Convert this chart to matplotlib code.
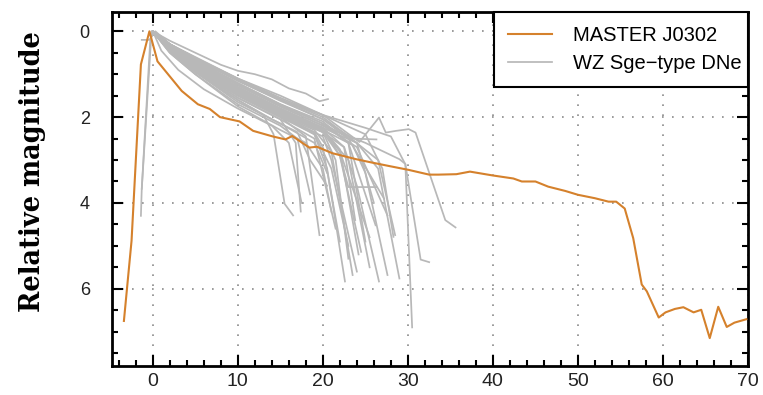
import matplotlib
matplotlib.use("Agg")
import matplotlib.pyplot as plt
from matplotlib.ticker import MultipleLocator

# ---------------- data ----------------
master_days = [-3.4, -2.5, -1.4, -0.4, 0.55, 3.4, 5.3, 6.7, 7.9, 10.2, 11.8, 14.1, 15.6,
               16.4, 18.4, 19.3, 21.1, 23.9, 25.8, 27.8, 30.1, 32.5, 33.6, 35.7, 37.3,
               40.0, 42.4, 43.4, 45.0, 46.5, 48.5, 50.0, 52.0, 53.6, 54.5, 55.5, 56.5,
               57.5, 58.1, 59.5, 60.3, 61.4, 62.4, 63.6, 64.5, 65.5, 66.5, 67.5, 68.4, 69.8]
master_mag = [6.75, 4.88, 0.77, 0.0, 0.7, 1.39, 1.70, 1.81, 2.0, 2.1, 2.32, 2.45, 2.52,
              2.44, 2.71, 2.69, 2.84, 2.98, 3.06, 3.14, 3.23, 3.34, 3.34, 3.33, 3.27,
              3.36, 3.43, 3.5, 3.5, 3.62, 3.72, 3.81, 3.89, 3.97, 3.97, 4.13, 4.82,
              5.90, 6.06, 6.67, 6.55, 6.47, 6.43, 6.55, 6.49, 7.15, 6.42, 6.89, 6.79, 6.71]

wz01_d = [0, 2, 5, 8, 10, 12, 14, 16, 18, 19.6, 20.6]
wz01_m = [0, 0.22, 0.5, 0.78, 0.92, 1.0, 1.12, 1.33, 1.45, 1.63, 1.58]
wz02_d = [0, 2, 5, 10, 15, 20, 24.3, 26.6, 27.4, 28.6, 30.1, 30.9, 34.4, 35.6]
wz02_m = [0, 0.3, 0.62, 1.1, 1.5, 1.95, 2.58, 2.01, 2.36, 2.32, 2.28, 2.36, 4.4, 4.57]
wz03_d = [0, 2, 5, 10, 15, 20, 25, 28, 29.7, 30.5]
wz03_m = [0, 0.3, 0.65, 1.15, 1.6, 1.95, 2.25, 2.45, 3.1, 6.9]
wz04_d = [0, 2, 5, 10, 15, 20, 25, 29, 29.7, 31.5, 32.5]
wz04_m = [0, 0.35, 0.7, 1.25, 1.75, 2.2, 2.6, 2.98, 3.09, 5.32, 5.38]
wz05_d = [0, 2, 5, 10, 15, 20, 24, 26.5, 29.0]
wz05_m = [0, 0.35, 0.75, 1.3, 1.8, 2.25, 2.6, 3.2, 5.76]
wz06_d = [0, 2, 5, 10, 15, 20, 23.5, 25, 27.6]
wz06_m = [0, 0.4, 0.8, 1.35, 1.85, 2.3, 2.65, 3.3, 5.68]
wz07_d = [0, 2, 5, 10, 15, 20, 22.5, 24, 26.6]
wz07_m = [0, 0.38, 0.78, 1.4, 1.9, 2.35, 2.7, 3.6, 5.83]
wz08_d = [0, 2, 5, 10, 15, 19, 21, 22.5, 23.5]
wz08_m = [0, 0.4, 0.85, 1.45, 1.95, 2.3, 2.8, 4.5, 5.68]
wz09_d = [0, 2, 5, 10, 15, 19, 20.5, 22.6]
wz09_m = [0, 0.42, 0.88, 1.5, 2.0, 2.4, 3.2, 5.83]
wz10_d = [0, 2, 5, 10, 15, 20, 22, 24.5]
wz10_m = [0, 0.35, 0.72, 1.3, 1.8, 2.25, 2.9, 5.14]
wz11_d = [0, 2, 5, 10, 15, 20, 23, 26.2]
wz11_m = [0, 0.3, 0.68, 1.2, 1.7, 2.1, 2.6, 4.52]
wz12_d = [0, 2, 5, 10, 15, 20, 25, 27, 28.3]
wz12_m = [0, 0.3, 0.6, 1.1, 1.55, 1.95, 2.4, 3.2, 4.79]
wz13_d = [0, 2, 5, 10, 13, 14.2, 15.5, 16.5]
wz13_m = [0, 0.45, 0.95, 1.6, 1.95, 2.4, 4.02, 4.29]
wz14_d = [0, 2, 5, 10, 15, 16.8, 17.4]
wz14_m = [0, 0.42, 0.9, 1.55, 2.05, 2.6, 4.2]
wz15_d = [0, 2, 5, 10, 15, 18, 19.6]
wz15_m = [0, 0.4, 0.85, 1.5, 2.0, 2.45, 4.75]
wz16_d = [0, 2, 5, 10, 15, 20, 22, 23, 26.3]
wz16_m = [0, 0.38, 0.8, 1.4, 1.9, 2.35, 2.9, 3.63, 3.63]
wz17_d = [0, 2, 5, 10, 15, 20, 23.5, 26.3]
wz17_m = [0, 0.3, 0.65, 1.15, 1.6, 2.05, 2.5, 2.52]
wz18_d = [0, 2, 5, 10, 15, 20, 23, 25.5]
wz18_m = [0, 0.36, 0.75, 1.35, 1.85, 2.3, 3.0, 5.5]
wz19_d = [0, 2, 5, 10, 15, 20, 24, 27.6]
wz19_m = [0, 0.33, 0.7, 1.25, 1.75, 2.2, 2.7, 4.29]
wz20_d = [0, 2, 5, 10, 15, 19, 21.5]
wz20_m = [0, 0.45, 0.9, 1.55, 2.05, 2.5, 4.6]
wz21_d = [0, 2, 5, 10, 15, 17, 18.5]
wz21_m = [0, 0.5, 1.0, 1.7, 2.2, 2.5, 3.8]
wz22_d = [0, 2, 5, 10, 15, 19, 20.5]
wz22_m = [0, 0.48, 0.95, 1.65, 2.15, 2.6, 3.3]
wz23_d = [0, 2, 5, 10, 15, 20, 21.5, 23]
wz23_m = [0, 0.4, 0.82, 1.42, 1.92, 2.35, 3.0, 5.3]
wz24_d = [0, 2, 5, 10, 15, 20, 23, 25]
wz24_m = [0, 0.33, 0.7, 1.25, 1.72, 2.15, 2.6, 4.9]
wz25_d = [0, 1, 3, 6, 10, 14, 16, 17.5]
wz25_m = [0, 0.45, 0.9, 1.35, 1.8, 2.2, 2.6, 4.0]
wz26_d = [0, 2, 5, 10, 15, 18, 20, 21]
wz26_m = [0, 0.5, 1.0, 1.75, 2.3, 2.6, 3.2, 4.2]
wz27_d = [0, 2, 5, 10, 15, 20, 22, 25.5]
wz27_m = [0, 0.35, 0.78, 1.38, 1.88, 2.32, 2.8, 4.8]
wz28_d = [0, 2, 5, 10, 15, 20, 21, 24]
wz28_m = [0, 0.42, 0.86, 1.48, 1.98, 2.45, 3.0, 5.6]
wz29_d = [0, 2, 5, 10, 15, 20, 23, 26.5, 28.5]
wz29_m = [0, 0.3, 0.62, 1.12, 1.58, 2.0, 2.45, 3.0, 4.75]
wz30_d = [0, 2, 5, 10, 14, 17, 18.5, 20.5]
wz30_m = [0, 0.45, 0.92, 1.6, 2.05, 2.35, 3.0, 3.6]
wz31_d = [0, 2, 5, 10, 15, 19, 20, 22]
wz31_m = [0, 0.38, 0.82, 1.42, 1.95, 2.35, 2.7, 4.9]
wz32_d = [0, 2, 5, 10, 15, 20, 22.5, 23.8]
wz32_m = [0, 0.36, 0.74, 1.3, 1.8, 2.25, 2.7, 4.4]
wz33_d = [0, 2, 5, 10, 15, 20, 23, 27.2]
wz33_m = [0, 0.3, 0.64, 1.15, 1.62, 2.05, 2.5, 3.9]
wz34_d = [-1.4, -1.3, -0.15, 2, 5, 10, 15, 19, 21, 23]
wz34_m = [4.3, 3.67, 0.0, 0.4, 0.85, 1.45, 1.95, 2.4, 3.2, 5.0]
wz35_d = [-1.3, -0.4, 0.3, 2, 5, 10, 15, 20, 24, 26]
wz35_m = [0.2, 0.2, 0.0, 0.3, 0.68, 1.22, 1.7, 2.15, 2.6, 4.0]
wz36_d = [-1.3, -0.3, 0, 2, 5, 10, 15, 20, 22, 24.2]
wz36_m = [3.67, 0.2, 0.0, 0.36, 0.76, 1.33, 1.83, 2.28, 2.75, 5.2]

wz_curves = [
    (wz01_d, wz01_m), (wz02_d, wz02_m), (wz03_d, wz03_m), (wz04_d, wz04_m),
    (wz05_d, wz05_m), (wz06_d, wz06_m), (wz07_d, wz07_m), (wz08_d, wz08_m),
    (wz09_d, wz09_m), (wz10_d, wz10_m), (wz11_d, wz11_m), (wz12_d, wz12_m),
    (wz13_d, wz13_m), (wz14_d, wz14_m), (wz15_d, wz15_m), (wz16_d, wz16_m),
    (wz17_d, wz17_m), (wz18_d, wz18_m), (wz19_d, wz19_m), (wz20_d, wz20_m),
    (wz21_d, wz21_m), (wz22_d, wz22_m), (wz23_d, wz23_m), (wz24_d, wz24_m),
    (wz25_d, wz25_m), (wz26_d, wz26_m), (wz27_d, wz27_m), (wz28_d, wz28_m),
    (wz29_d, wz29_m), (wz30_d, wz30_m), (wz31_d, wz31_m), (wz32_d, wz32_m),
    (wz33_d, wz33_m), (wz34_d, wz34_m), (wz35_d, wz35_m), (wz36_d, wz36_m),
]

x_ticks = [0, 10, 20, 30, 40, 50, 60, 70]
y_ticks = [0, 2, 4, 6]

# ---------------- plot ----------------
ORANGE = "#d5812c"
GREY = "#b8b8b8"

fig = plt.figure(figsize=(7.63, 3.95), dpi=100)
ax = fig.add_axes([112 / 763, 1 - 366 / 395, 636 / 763, (366 - 12) / 395])

for i, (d, m) in enumerate(wz_curves):
    ax.plot(d, m, color=GREY, lw=1.25, zorder=2,
            label="WZ Sge\u2212type DNe" if i == 0 else None)
ax.plot(master_days, master_mag, color=ORANGE, lw=1.5, zorder=3, label="MASTER J0302")

ax.set_xlim(-4.8, 70)
ax.set_ylim(7.8, -0.45)
ax.set_xticks(x_ticks)
ax.set_yticks(y_ticks)
ax.xaxis.set_minor_locator(MultipleLocator(2))
ax.yaxis.set_minor_locator(MultipleLocator(0.5))

ax.grid(True, which="major", color="#8a8a8a", linestyle=(0, (1, 5)), lw=1.2)
ax.tick_params(which="both", direction="in", top=True, right=True, width=1.5, color="black")
ax.tick_params(which="major", length=8)
ax.tick_params(which="minor", length=4)
ax.tick_params(axis="x", labelsize=14, pad=5, labelcolor="#222222")
ax.tick_params(axis="y", labelsize=13, pad=16, labelcolor="#222222")
for lab in ax.get_xticklabels() + ax.get_yticklabels():
    lab.set_fontfamily("Liberation Sans")
for s in ax.spines.values():
    s.set_linewidth(2.0)

ax.set_ylabel("Relative magnitude", family="DejaVu Serif", fontweight="bold",
              fontsize=20.5, fontstretch="condensed")
ax.yaxis.set_label_coords(-0.103, 0.55)

handles, labels = ax.get_legend_handles_labels()
order = [1, 0]
leg = ax.legend([handles[i] for i in order], [labels[i] for i in order],
                loc="upper right", bbox_to_anchor=(0.6006, 0.0, 0.3994, 1.0),
                mode="expand", borderaxespad=0, fancybox=False, framealpha=1,
                edgecolor="black", prop={"family": "Liberation Sans", "size": 14.5},
                handlelength=2.2, handletextpad=1.0, labelspacing=0.45, borderpad=0.7)
leg.get_frame().set_linewidth(1.5)
leg.set_zorder(5)

fig.savefig("out.png", dpi=100)
